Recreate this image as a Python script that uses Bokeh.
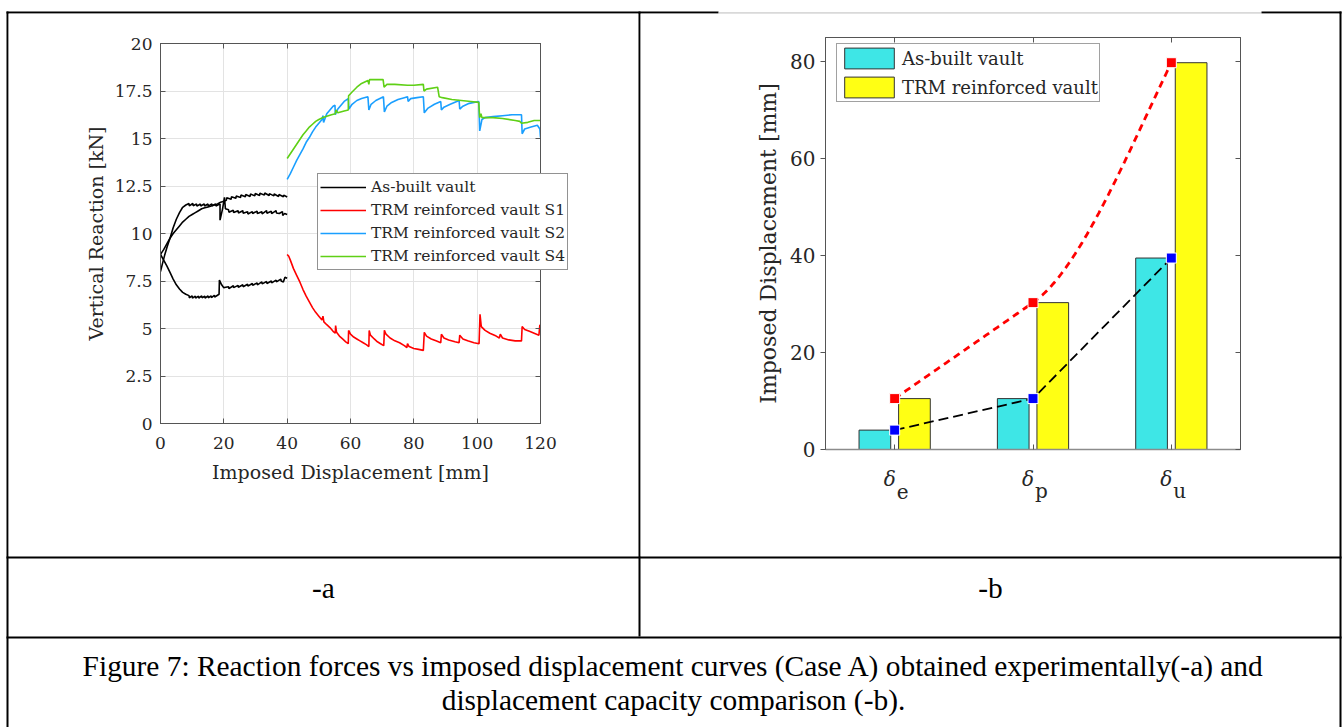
import numpy as np
from bokeh.plotting import figure
from bokeh.models import Range1d, FixedTicker, LinearAxis, Legend, LegendItem
from bokeh.core.properties import value
from bokeh.embed import file_html
from bokeh.resources import INLINE

# ---------------- panel (a) data: (imposed displacement [mm], vertical reaction [kN]) ----------------
xticks_a = [0, 20, 40, 60, 80, 100, 120]
xticklabels_a = ["0", "20", "40", "60", "80", "100", "120"]
yticks_a = [0, 2.5, 5, 7.5, 10, 12.5, 15, 17.5, 20]
yticklabels_a = ["0", "2.5", "5", "7.5", "10", "12.5", "15", "17.5", "20"]

asb_fast = [(0, 8.0), (0.6, 8.4), (1.3, 8.85), (2.1, 9.3), (3.0, 9.75), (4.0, 10.3), (5.0, 10.75), (6.0, 11.1),
            (7.0, 11.38), (8.0, 11.5), (9.0, 11.58), (9.1, 11.45), (10.2, 11.58), (10.3, 11.46), (11.4, 11.55),
            (11.5, 11.44), (12.6, 11.55), (12.7, 11.45), (13.8, 11.56), (13.9, 11.45), (15.0, 11.55), (15.1, 11.44),
            (16.2, 11.56), (16.3, 11.46), (17.4, 11.55), (17.5, 11.45), (18.4, 11.52), (18.8, 11.55), (18.8, 10.7),
            (19.6, 11.3), (20.2, 11.9), (20.5, 11.3), (21.5, 11.25), (21.6, 11.12), (23, 11.22), (23.1, 11.1),
            (24.5, 11.2), (24.6, 11.08), (26, 11.2), (26.1, 11.07), (27.5, 11.15), (27.6, 11.03), (29, 11.15),
            (29.1, 11.05), (30.5, 11.18), (30.6, 11.05), (32, 11.15), (32.1, 11.03), (33.5, 11.2), (33.6, 11.07),
            (35, 11.17), (35.1, 11.05), (36.5, 11.2), (36.6, 11.08), (37.5, 11.05), (38.5, 11.15), (38.6, 10.95),
            (39.2, 11.05), (40, 11.0)]

asb_slow = [(0, 8.9), (1, 9.15), (2, 9.45), (3, 9.75), (4, 10.0), (5, 10.2), (6, 10.4), (7, 10.6), (8, 10.75),
            (9, 10.9), (10, 11.0), (11, 11.1), (12, 11.2), (13, 11.3), (14, 11.35), (15, 11.4), (16, 11.45),
            (17, 11.5), (18, 11.55), (19, 11.65), (20, 11.7), (20.8, 11.75), (20.9, 11.88), (22.3, 11.8),
            (22.4, 11.93), (23.8, 11.85), (23.9, 11.97), (25.3, 11.9), (25.4, 12.02), (26.8, 11.93), (26.9, 12.05),
            (28.3, 11.95), (28.4, 12.08), (29.8, 11.98), (29.9, 12.1), (31.3, 12.0), (31.4, 12.12), (32.8, 12.02),
            (32.9, 12.13), (34.3, 12.0), (34.4, 12.1), (35.8, 11.98), (35.9, 12.08), (37.3, 11.95), (37.4, 12.05),
            (38.8, 11.93), (38.9, 12.02), (40, 11.92)]

asb_desc = [(0, 8.9), (1, 8.6), (2, 8.3), (3, 7.95), (4, 7.6), (5, 7.3), (6, 7.08), (7, 6.9), (8, 6.8), (9, 6.73),
            (9.1, 6.62), (10, 6.72), (10.1, 6.6), (11, 6.7), (11.1, 6.6), (12, 6.7), (12.1, 6.6), (13, 6.72),
            (13.1, 6.62), (14, 6.7), (14.1, 6.6), (15, 6.72), (15.1, 6.62), (16, 6.72), (16.1, 6.63), (17, 6.75),
            (17.1, 6.65), (18, 6.75), (18.5, 6.8), (18.6, 7.55), (19.3, 7.3), (20, 7.15), (20.6, 7.17), (21.5, 7.2),
            (21.6, 7.1), (23, 7.25), (23.1, 7.15), (24.5, 7.27), (24.6, 7.17), (26, 7.3), (26.1, 7.2), (27.5, 7.33),
            (27.6, 7.23), (29, 7.37), (29.1, 7.27), (30.5, 7.4), (30.6, 7.3), (32, 7.45), (32.1, 7.35), (33.5, 7.47),
            (33.6, 7.37), (35, 7.5), (35.1, 7.4), (36.5, 7.55), (36.6, 7.45), (38, 7.6), (38.1, 7.5), (38.8, 7.45),
            (39.3, 7.7), (40, 7.65)]

s1_x = [40.0, 40.5, 41, 42, 43, 44, 45, 46, 47, 48, 49, 50, 51, 51.3, 51.6, 52.5, 53.5, 54.5, 55.2, 55.3, 55.6, 56.5, 57.5,
        58.5, 59.3, 59.4, 60, 61, 62, 63, 64, 65, 65.8, 65.9, 66.3, 67.5, 68.5, 69.5, 70.5, 70.7, 71.2, 72.5, 74, 75.5, 77,
        77.8, 78, 78.5, 80, 81.5, 83, 83.3, 84, 85.5, 87, 88.5, 88.7, 89.5, 91, 93, 94.3, 94.5, 95.5, 97, 99, 100.6, 100.9,
        101.3, 102.5, 104, 106, 107, 107.3, 108, 110, 112, 114, 114.2, 115, 116.5, 118, 119.5, 119.8, 120]
s1_y = [8.9, 8.8, 8.6, 8.15, 7.8, 7.45, 7.05, 6.7, 6.4, 6.1, 5.85, 5.65, 5.45, 5.65, 5.35, 5.2, 5.05, 4.85, 4.75, 5.15, 4.8,
        4.6, 4.45, 4.3, 4.2, 4.9, 4.7, 4.55, 4.45, 4.35, 4.25, 4.15, 4.05, 4.9, 4.65, 4.45, 4.3, 4.2, 4.1, 4.9, 4.7, 4.5,
        4.35, 4.25, 4.1, 4.0, 4.2, 4.05, 3.95, 3.9, 3.85, 4.8, 4.6, 4.45, 4.35, 4.25, 4.7, 4.5, 4.4, 4.3, 4.25, 4.65, 4.45,
        4.35, 4.25, 4.2, 5.75, 5.1, 4.9, 4.75, 4.6, 4.5, 4.7, 4.5, 4.4, 4.35, 4.35, 5.1, 4.95, 4.85, 4.75, 4.65, 5.2, 5.0]

s2_x = [40, 41, 42, 43, 44, 45, 46, 47, 48, 49, 50, 51, 51.3, 51.5, 52.5, 53.5, 54.5, 55.1, 55.2, 56, 57, 58, 59.3, 59.5,
        60.5, 62, 63.5, 65.5, 65.8, 66.5, 68, 70.4, 70.7, 71.5, 73, 75, 77, 78, 78.2, 79, 81, 83, 83.3, 84.5, 86.5, 88.5,
        88.7, 89.5, 91.5, 94.3, 94.5, 95.5, 97.5, 100.5, 100.8, 101.5, 102.5, 105, 108, 111, 114, 114.2, 115, 117, 119,
        119.8, 120]
s2_y = [12.85, 13.15, 13.5, 13.85, 14.15, 14.45, 14.8, 15.05, 15.35, 15.6, 15.8, 16.0, 16.2, 15.85, 16.3, 16.5, 16.7,
        16.75, 16.25, 16.55, 16.75, 16.95, 17.1, 16.55, 16.8, 17.0, 17.1, 17.2, 16.5, 16.8, 17.0, 17.2, 16.4, 16.7, 16.9,
        17.05, 17.15, 17.2, 16.95, 17.1, 17.15, 17.2, 16.35, 16.6, 16.8, 16.95, 16.5, 16.65, 16.8, 17.0, 16.55, 16.7,
        16.85, 16.95, 15.4, 16.0, 16.1, 16.15, 16.2, 16.25, 16.25, 15.25, 15.5, 15.6, 15.7, 15.5, 15.05]

s4_x = [40, 41, 42, 43, 44, 45, 46, 47, 48, 49, 50, 51.3, 52, 54, 55.2, 55.4, 56, 58, 59.3, 59.4, 60.5, 62, 63.5, 65.5,
        65.8, 66, 67, 70.3, 70.6, 71.5, 74, 78, 80, 83, 83.2, 84, 87.5, 88, 89, 92, 95, 98, 100.5, 100.8, 101.2, 101.5, 105,
        108, 112, 113.5, 114, 116, 118, 120]
s4_y = [13.95, 14.2, 14.45, 14.7, 14.95, 15.2, 15.4, 15.6, 15.75, 15.9, 16.0, 16.1, 16.15, 16.25, 16.3, 16.5, 16.35,
        16.45, 16.5, 17.25, 17.45, 17.7, 17.9, 18.05, 17.85, 18.1, 18.1, 18.1, 17.7, 17.85, 17.85, 17.8, 17.8, 17.85,
        17.5, 17.6, 17.7, 17.2, 17.15, 17.05, 17.0, 16.95, 16.9, 16.1, 16.3, 16.1, 16.1, 16.05, 15.95, 15.9, 15.8, 15.85,
        15.95, 15.95]

# ---------------- panel (b) data ----------------
cat_symbol = "δ"
cat_subs = ["e", "p", "u"]
asbuilt_disp = [4.0, 10.5, 39.5]
trm_disp = [10.5, 30.3, 79.8]
yticks_b = [0, 20, 40, 60, 80]
yticklabels_b = ["0", "20", "40", "60", "80"]

# ---------------- styling ----------------
SERIF = "DejaVu Serif"
CAP = "Liberation Serif"
AXC = "#555555"
TXT = "#262626"


def blank(name, w, h, xr, yr, transparent=False):
    f = figure(name=name, width=w, height=h, x_range=xr, y_range=yr, output_backend="svg",
               toolbar_location=None, min_border=0, x_axis_location=None, y_axis_location=None)
    f.grid.visible = False
    f.outline_line_color = None
    if transparent:
        f.border_fill_alpha = 0
        f.background_fill_alpha = 0
    else:
        f.border_fill_color = "white"
        f.background_fill_color = "white"
    return f


def style_axis(ax, tick_in=5, tick_out=0):
    ax.major_tick_in = tick_in
    ax.major_tick_out = tick_out
    ax.minor_tick_line_color = None
    ax.axis_line_color = AXC
    ax.major_tick_line_color = AXC
    ax.major_label_text_color = TXT
    ax.axis_label_text_color = TXT
    ax.axis_label_text_font_style = "normal"
    ax.major_label_text_font = SERIF
    ax.axis_label_text_font = SERIF


def add_box(p, xt, yt, tick_in=5):
    for side, ticks in (("above", xt), ("right", yt)):
        ax = LinearAxis(ticker=FixedTicker(ticks=ticks), major_label_text_color=None, major_tick_in=tick_in,
                        major_tick_out=0, minor_tick_line_color=None, axis_line_color=AXC,
                        major_tick_line_color=AXC)
        p.add_layout(ax, side)


def hermite(xs, ys, ms, n=60):
    """Smooth trend curve through the given points with the given tangents."""
    cx, cy = [], []
    for i in range(len(xs) - 1):
        h = xs[i + 1] - xs[i]
        t = np.linspace(0, 1, n)
        h00 = 2 * t ** 3 - 3 * t ** 2 + 1
        h10 = t ** 3 - 2 * t ** 2 + t
        h01 = -2 * t ** 3 + 3 * t ** 2
        h11 = t ** 3 - t ** 2
        cx.extend(list(xs[i] + t * h))
        cy.extend(list(h00 * ys[i] + h10 * h * ms[i] + h01 * ys[i + 1] + h11 * h * ms[i + 1]))
    return cx, cy


# ================= panel (a) =================
pa = figure(name="pa", width=630, height=543, x_range=Range1d(0, 120), y_range=Range1d(0, 20),
            output_backend="svg", toolbar_location=None, min_border_left=152, min_border_right=98,
            min_border_top=30, min_border_bottom=133)
xa, ya = pa.xaxis[0], pa.yaxis[0]
xa.ticker = FixedTicker(ticks=xticks_a)
ya.ticker = FixedTicker(ticks=yticks_a)
xa.major_label_overrides = dict(zip(xticks_a, xticklabels_a))
ya.major_label_overrides = dict(zip(yticks_a, yticklabels_a))
xa.axis_label = "Imposed Displacement [mm]"
ya.axis_label = "Vertical Reaction [kN]"
style_axis(xa)
style_axis(ya)
xa.major_label_text_font_size = "17px"
ya.major_label_text_font_size = "17px"
xa.axis_label_text_font_size = "19px"
ya.axis_label_text_font_size = "19px"
xa.major_label_standoff = 13
ya.major_label_standoff = 8
xa.axis_label_standoff = 9
ya.axis_label_standoff = 5
add_box(pa, xticks_a, yticks_a)
pa.xgrid.grid_line_color = "#e3e3e3"
pa.ygrid.grid_line_color = "#e3e3e3"
pa.outline_line_color = AXC

lw = 1.6
COL_AB, COL_S1, COL_S2, COL_S4 = "black", "#ff0000", "#1a9fff", "#5fd016"
for branch in (asb_fast, asb_slow, asb_desc):
    bx, by = zip(*branch)
    pa.line(list(bx), list(by), line_color=COL_AB, line_width=lw)
pa.line(s1_x, s1_y, line_color=COL_S1, line_width=lw)
pa.line(s2_x, s2_y, line_color=COL_S2, line_width=lw)
pa.line(s4_x, s4_y, line_color=COL_S4, line_width=lw)

# legend of panel (a) lives in a transparent overlay (it extends past the axes box)
paleg = blank("paleg", 300, 130, Range1d(0, 1), Range1d(0, 1), transparent=True)
leg_items = []
for lab, col in (("As-built vault", COL_AB), ("TRM reinforced vault S1", COL_S1),
                 ("TRM reinforced vault S2", COL_S2), ("TRM reinforced vault S4", COL_S4)):
    r = paleg.line([-5, -4], [-5, -5], line_color=col, line_width=lw)
    leg_items.append(LegendItem(label=lab, renderers=[r]))
leg_a = Legend(items=leg_items, location=(17, 20), label_text_font=SERIF, label_text_font_size="15.5px",
               label_text_color=TXT, glyph_width=46, glyph_height=22, label_height=22, spacing=1, padding=2,
               margin=0, label_standoff=5, border_line_color="#262626", border_line_width=1,
               background_fill_color="white", background_fill_alpha=1)
paleg.add_layout(leg_a)

# ================= panel (b) =================
xpos = np.arange(1, len(cat_subs) + 1)
off = 0.143
bw = 0.229
pb = figure(name="pb", width=699, height=543, x_range=Range1d(0.5, 3.5), y_range=Range1d(0, 85),
            output_backend="svg", toolbar_location=None, min_border_left=185, min_border_right=99,
            min_border_top=24, min_border_bottom=107)
xb, yb = pb.xaxis[0], pb.yaxis[0]
xb.ticker = FixedTicker(ticks=list(xpos))
yb.ticker = FixedTicker(ticks=yticks_b)
yb.major_label_overrides = dict(zip(yticks_b, yticklabels_b))
yb.axis_label = "Imposed Displacement [mm]"
style_axis(xb)
style_axis(yb, tick_in=0, tick_out=5)
xb.major_label_text_color = None
xb.axis_line_color = "#8c8c8c"
xb.axis_line_width = 1.5
yb.major_label_text_font_size = "20px"
yb.axis_label_text_font_size = "22px"
yb.major_label_standoff = 5
yb.axis_label_standoff = 6
add_box(pb, list(xpos), yticks_b)
pb.grid.visible = False
pb.outline_line_color = AXC

r_b1 = pb.vbar(x=xpos - off, top=asbuilt_disp, width=bw, fill_color="#3ee6e6", line_color="#333333", line_width=1)
r_b2 = pb.vbar(x=xpos + off, top=trm_disp, width=bw, fill_color="#ffff14", line_color="#333333", line_width=1)

# dashed trend curves through the markers
sec_t = np.diff(trm_disp) / np.diff(xpos)
tx, ty = hermite(xpos, trm_disp, [sec_t[0], sec_t[0], 1.2 * sec_t[1]])
pb.line(tx, ty, line_color="#ff0000", line_width=2.8, line_dash="7 5")
pb.line(xpos, asbuilt_disp, line_color="black", line_width=1.8, line_dash="10 5")
pb.scatter(xpos, trm_disp, marker="square", size=10, fill_color="#ff0000", line_color="white", line_width=1)
pb.scatter(xpos, asbuilt_disp, marker="square", size=10, fill_color="#0000ff", line_color="white", line_width=1)

leg_b = Legend(items=[LegendItem(label="As-built vault", renderers=[r_b1]),
                      LegendItem(label="TRM reinforced vault", renderers=[r_b2])],
               location=(11, 347), label_text_font=SERIF, label_text_font_size="18px", label_text_color=TXT,
               glyph_width=62, glyph_height=26, label_height=26, spacing=3, padding=1, margin=0, label_standoff=2,
               border_line_color="#444444", border_line_width=1, background_fill_color="white",
               background_fill_alpha=1)
pb.add_layout(leg_b)

# category labels (delta with subscript) in an overlay that shares panel (b)'s x range
pbcat = blank("pbcat", 415, 50, pb.x_range, Range1d(505, 455), transparent=True)
pbcat.text(x=xpos, y=[478.5] * len(xpos), text=[cat_symbol] * len(xpos), text_font=value(SERIF),
           text_font_style="italic", text_font_size="20px", text_color=TXT, text_align="right",
           text_baseline="alphabetic", x_offset=1)
pbcat.text(x=xpos, y=[490.5] * len(xpos), text=cat_subs, text_font=value(SERIF), text_font_size="20px",
           text_color=TXT, text_align="left", text_baseline="alphabetic", x_offset=2)

# ================= table frame and captions (page coordinates) =================
bg = blank("bg", 1342, 727, Range1d(0, 1342), Range1d(727, 0))
bg.quad(left=[6, 718, 1261, 6, 638, 1339, 6, 6], right=[718, 1261, 1341, 8, 640, 1341, 1341, 1341],
        top=[11, 12, 11, 11, 11, 11, 556, 636], bottom=[13, 13, 13, 727, 636, 727, 558, 638],
        fill_color=["black", "#b4b4b4", "black", "black", "black", "black", "black", "black"], line_color=None)
bg.text(x=[323, 990], y=[587, 587], text=["-a", "-b"], text_font=value(CAP), text_font_size="29.4px",
        text_color="black", text_align="center", text_baseline="alphabetic")
bg.text(x=[673, 673], y=[665, 699],
        text=["Figure 7: Reaction forces vs imposed displacement curves (Case A) obtained experimentally(-a) and",
              "displacement capacity comparison (-b)."],
        text_font=value(CAP), text_font_size="29.4px", text_color="black", text_align="center",
        text_baseline="alphabetic")

positions = {"bg": (0, 0), "pa": (8, 13), "pb": (640, 13), "paleg": (300, 160), "pbcat": (825, 455)}
TEMPLATE = """
{% block root %}
{% from macros import embed %}
<div style="position:absolute;left:{{ positions[root.name][0] }}px;top:{{ positions[root.name][1] }}px;">
{{ embed(root) }}
</div>
{% endblock %}
"""
html = file_html([bg, pa, pb, paleg, pbcat], INLINE, template=TEMPLATE, template_variables={"positions": positions})
open("out.html", "w").write(html)
